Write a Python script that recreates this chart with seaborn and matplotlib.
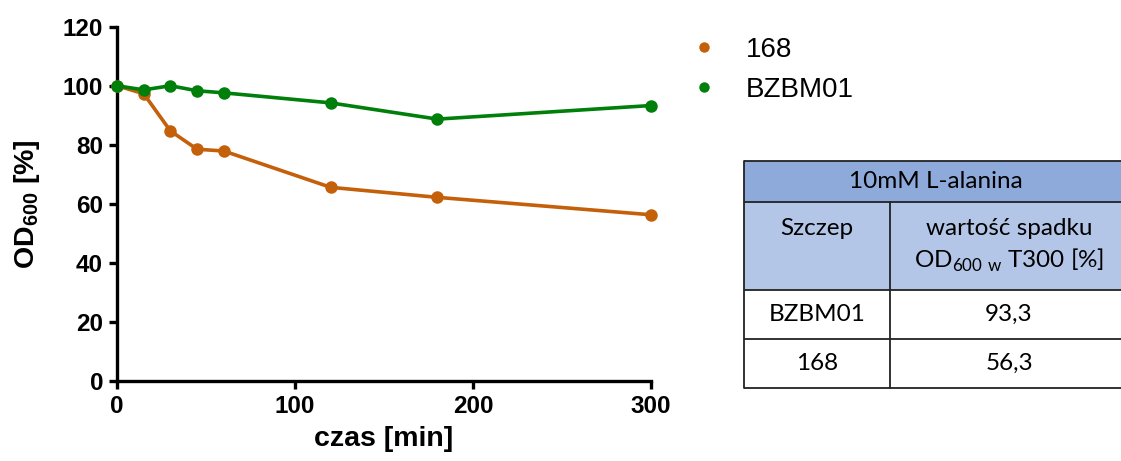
import numpy as np
import pandas as pd
import matplotlib
matplotlib.use("Agg")
import matplotlib.pyplot as plt
from matplotlib.lines import Line2D
from matplotlib.patches import Rectangle
import seaborn as sns

# ---- data ----
time_min = [0, 15, 30, 45, 60, 120, 180, 300]
od_168 = [100, 97.3, 84.7, 78.5, 77.9, 65.6, 62.2, 56.3]
od_bzbm01 = [100, 98.6, 100, 98.3, 97.6, 94.2, 88.7, 93.3]
strains = ["168", "BZBM01"]
colors = {"168": "#C5600A", "BZBM01": "#00800A"}
x_ticks = [0, 100, 200, 300]
y_ticks = [0, 20, 40, 60, 80, 100, 120]

table_title = "10mM L-alanina"
table_head = ["Szczep", "wartość spadku", r"OD$_{\mathregular{600\ w}}$ T300 [%]"]
table_strains = ["BZBM01", "168"]
table_values = ["93,3", "56,3"]

df = pd.DataFrame({
    "czas": time_min * 2,
    "OD": od_168 + od_bzbm01,
    "szczep": ["168"] * len(time_min) + ["BZBM01"] * len(time_min),
})

sns.set_theme(style="ticks")
plt.rcParams["font.family"] = ["Liberation Sans", "DejaVu Sans"]
plt.rcParams["mathtext.fontset"] = "custom"
for k in ["text.color", "axes.labelcolor", "xtick.color", "ytick.color",
          "xtick.labelcolor", "ytick.labelcolor"]:
    plt.rcParams[k] = "black"

W, H = 1121, 461
fig = plt.figure(figsize=(W / 100, H / 100), dpi=100)
ax = fig.add_axes([117 / W, 1 - 381 / H, (651 - 117) / W, (381 - 26.7) / H])

sns.lineplot(data=df, x="czas", y="OD", hue="szczep", hue_order=strains,
             palette=colors, marker="o", markersize=9, markeredgewidth=0,
             linewidth=2.6, ax=ax, legend=False, clip_on=False, zorder=3)

ax.set_xlim(0, 300)
ax.set_ylim(0, 120)
ax.set_xticks(x_ticks)
ax.set_yticks(y_ticks)
for s in ["top", "right"]:
    ax.spines[s].set_visible(False)
for s in ["left", "bottom"]:
    ax.spines[s].set_linewidth(2.4)
    ax.spines[s].set_color("black")
ax.tick_params(axis="both", direction="out", length=6, width=2.4, color="black",
               labelcolor="black", labelsize=17.5, pad=4)
for lab in ax.get_xticklabels() + ax.get_yticklabels():
    lab.set_fontweight("bold")
ax.set_xlabel("czas [min]", fontsize=20.5, fontweight="bold", labelpad=6, color="black")
ax.set_ylabel(r"OD$_{\mathregular{600}}$ [%]", fontsize=20.5, fontweight="bold", color="black")
ax.yaxis.set_label_coords(-(117 - 42) / (651 - 117), 0.5)
ax.grid(False)

handles = [Line2D([], [], linestyle="none", marker="o", markersize=7.5,
                  markeredgewidth=0, color=colors[s]) for s in strains]
leg = ax.legend(handles, strains, loc="upper left", frameon=False,
                bbox_to_anchor=(690 / W, 1 - 37 / H), bbox_transform=fig.transFigure,
                fontsize=20, handlelength=1.0, handletextpad=1.0,
                labelspacing=0.5, borderpad=0, borderaxespad=0, labelcolor="black")

# ---- table ----
tax = fig.add_axes([0, 0, 1, 1])
tax.set_xlim(0, W)
tax.set_ylim(H, 0)
tax.axis("off")
x0, xm, x1 = 744, 890, 1128
rows = [161, 202, 290, 339, 388]
tfont = ["Lato", "DejaVu Sans"]
tax.add_patch(Rectangle((x0, rows[0]), x1 - x0, rows[1] - rows[0], facecolor="#8EAADB",
                        edgecolor="none"))
tax.add_patch(Rectangle((x0, rows[1]), x1 - x0, rows[2] - rows[1], facecolor="#B4C6E7",
                        edgecolor="none"))
lc = "#222222"
lw = 1.3
for y in rows:
    tax.plot([x0, x1], [y, y], color=lc, lw=lw, solid_capstyle="butt")
tax.plot([x0, x0], [rows[0], rows[-1]], color=lc, lw=lw)
tax.plot([xm, xm], [rows[1], rows[-1]], color=lc, lw=lw)

fs = 17.5
kw = dict(ha="center", va="center", fontsize=fs, family=tfont, color="black")
tax.text((x0 + x1) / 2, (rows[0] + rows[1]) / 2, table_title, **kw)
tax.text((x0 + xm) / 2, 228, table_head[0], **kw)
tax.text((xm + x1) / 2, 228, table_head[1], **kw)
tax.text((xm + x1) / 2, 260, table_head[2], **kw)
for i, (s, v) in enumerate(zip(table_strains, table_values)):
    yc = (rows[2 + i] + rows[3 + i]) / 2
    tax.text((x0 + xm) / 2, yc, s, **kw)
    tax.text((xm + x1) / 2, yc, v, **kw)

fig.savefig("out.png", dpi=100)
